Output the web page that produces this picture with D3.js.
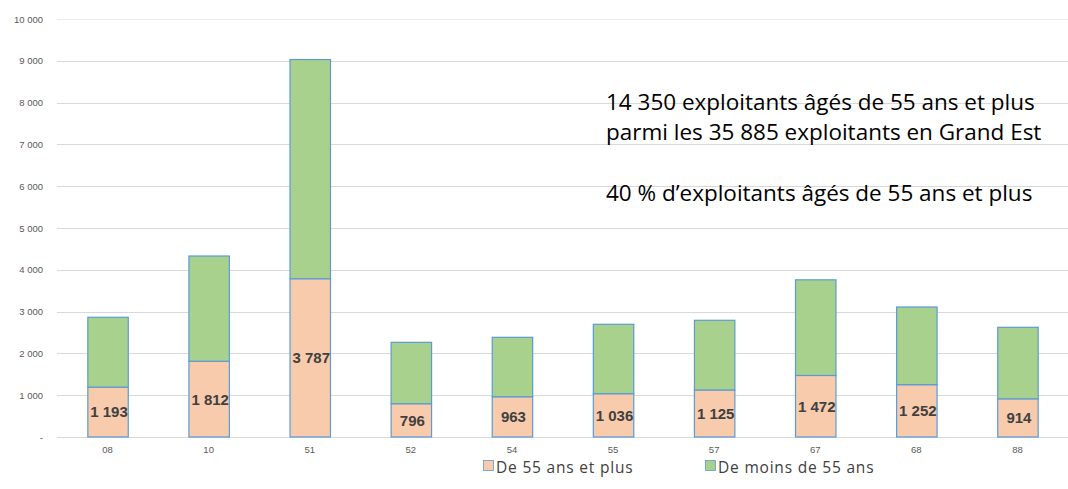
<!DOCTYPE html>
<html>
<head>
<meta charset="utf-8">
<script src="https://cdn.jsdelivr.net/npm/d3@7"></script>
<style>
  body { margin: 0; background: #fff; }
  svg { display: block; }
</style>
</head>
<body>
<svg id="chart" width="1068" height="489"></svg>
<script>
const categories = ["08", "10", "51", "52", "54", "55", "57", "67", "68", "88"];
const seniors = [1193, 1812, 3787, 796, 963, 1036, 1125, 1472, 1252, 914];
const totals = [2864, 4330, 9030, 2265, 2385, 2696, 2792, 3760, 3110, 2624];
const juniors = totals.map((t, i) => t - seniors[i]);
const yTicks = [0, 1000, 2000, 3000, 4000, 5000, 6000, 7000, 8000, 9000, 10000];
const seriesNames = ["De 55 ans et plus", "De moins de 55 ans"];
const seriesColors = ["#f8cbad", "#a9d18e"];
const annotation = [
  "14 350 exploitants âgés de 55 ans et plus",
  "parmi les 35 885 exploitants en Grand Est",
  "",
  "40 % d’exploitants âgés de 55 ans et plus"
];

const svg = d3.select("#chart");
const plotLeft = 57, plotRight = 1068, plotTop = 19, plotBottom = 437;

const x = d3.scaleBand().domain(categories).range([plotLeft, plotRight]).paddingInner(0.6).paddingOuter(0.3);
const y = d3.scaleLinear().domain([0, 10000]).range([plotBottom, plotTop]);

const fmt = v => v === 0 ? "-" : d3.format(",")(v).replace(/,/g, " ");

// gridlines
svg.append("g").selectAll("line").data(yTicks).join("line")
  .attr("x1", plotLeft).attr("x2", plotRight)
  .attr("y1", d => Math.round(y(d)) + 0.5).attr("y2", d => Math.round(y(d)) + 0.5)
  .attr("stroke", d => d === 10000 ? "#ebebeb" : "#d9d9d9")
  .attr("stroke-width", 1);

// y axis labels
const yAxis = d3.axisLeft(y).tickValues(yTicks).tickFormat(fmt).tickSize(0).tickPadding(0);
const gy = svg.append("g").attr("transform", `translate(${plotLeft - 14},0)`).call(yAxis);
gy.select(".domain").remove();
gy.selectAll("text").attr("fill", "#595959").style("font-family", "Liberation Sans, Arial, sans-serif").style("font-size", "9.5px");

// x axis labels
const xAxis = d3.axisBottom(x).tickSize(0).tickPadding(0);
const gx = svg.append("g").attr("transform", `translate(0,${plotBottom + 9})`).call(xAxis);
gx.select(".domain").remove();
gx.selectAll("text").attr("fill", "#595959").style("font-family", "Liberation Sans, Arial, sans-serif").style("font-size", "9.5px");

// stacked data
const rows = categories.map((c, i) => ({ cat: c, s: seniors[i], j: juniors[i] }));
const stack = d3.stack().keys(["s", "j"])(rows);

const g = svg.append("g");
stack.forEach((layer, li) => {
  g.append("g").selectAll("rect").data(layer).join("rect")
    .attr("x", d => x(d.data.cat) + 0.5)
    .attr("width", x.bandwidth())
    .attr("y", d => y(d[1]))
    .attr("height", d => y(d[0]) - y(d[1]))
    .attr("fill", seriesColors[li])
    .attr("stroke", "#5b9bd5")
    .attr("stroke-width", 1.2);
});

// labels for seniors
g.append("g").selectAll("text").data(stack[0]).join("text")
  .attr("x", d => x(d.data.cat) + x.bandwidth() / 2 + 1.5)
  .attr("y", d => (y(d[0]) + y(d[1])) / 2)
  .attr("dy", "0.36em")
  .attr("text-anchor", "middle")
  .attr("fill", "#404040")
  .style("font-family", "Liberation Sans, Arial, sans-serif")
  .style("font-weight", "bold")
  .style("font-size", "15px")
  .text(d => fmt(d.data.s));

// annotation
const ann = svg.append("g").style("font-family", "Open Sans, Liberation Sans, sans-serif").style("font-size", "18px").attr("fill", "#000");
const annTexts = ann.selectAll("text").data(annotation).join("text")
  .attr("x", 606)
  .attr("y", (d, i) => 110 + i * 30.3)
  .text(d => d);
const w0 = annTexts.nodes()[0].getComputedTextLength();
const fs = 18 * 429 / w0;
ann.style("font-size", fs + "px");

// legend
const legendX = [483, 705];
const lg = svg.append("g");
seriesNames.forEach((name, i) => {
  lg.append("rect").attr("x", legendX[i] + 0.5).attr("y", 460.5).attr("width", 10).attr("height", 10)
    .attr("fill", seriesColors[i]).attr("stroke", "#5b9bd5").attr("stroke-width", 0.8);
  lg.append("text").attr("x", legendX[i] + 13).attr("y", 472.5)
    .attr("fill", "#404040")
    .style("font-family", "Open Sans, Liberation Sans, sans-serif").style("font-size", "15.5px")
    .style("letter-spacing", "0.8px")
    .text(name);
});
</script>
</body>
</html>
